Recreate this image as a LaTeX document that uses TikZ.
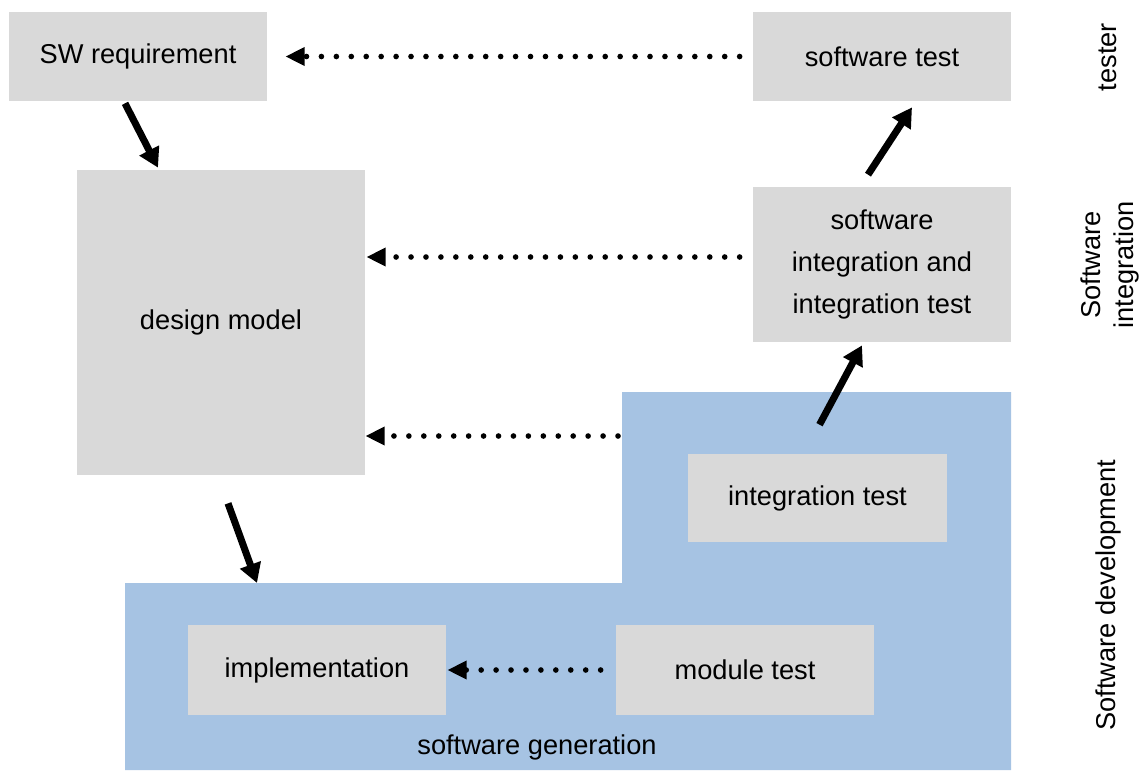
\documentclass[tikz,border=0pt]{standalone}
\usepackage{fontspec}
\setmainfont{Liberation Sans}
\usetikzlibrary{arrows.meta, calc}

\definecolor{boxgray}{RGB}{217,217,217}
\definecolor{genblue}{RGB}{166,195,227}

\tikzset{
    stage/.style={fill=boxgray, inner sep=0pt, align=center, font=\fontsize{15.5}{24}\selectfont},
    flow/.style={line width=4pt, -{Triangle[length=11pt, width=12pt]}},
    dotflow/.style={line width=3.2pt, line cap=round, dash pattern=on 0pt off 8.5pt, -{Triangle[length=11pt, width=10pt]}},
    side/.style={rotate=90, align=center, font=\fontsize{15.5}{19}\selectfont}
}

\begin{document}
\begin{tikzpicture}
            \useasboundingbox (0,0) rectangle (22.86,-15.4);

            % Software generation area
            \coordinate (gen-a) at (12.44,-7.84);
            \coordinate (gen-b) at (20.22,-7.84);
            \coordinate (gen-c) at (20.22,-15.4);
            \coordinate (gen-d) at (2.5,-15.4);
            \coordinate (gen-e) at (2.5,-11.66);
            \coordinate (gen-f) at (12.44,-11.66);
            \fill[genblue] (gen-a) -- (gen-b) -- (gen-c) -- (gen-d) -- (gen-e) -- (gen-f) -- cycle;
            \coordinate (gen-entry) at (5.14,-11.66); % top edge of the lower part
            \coordinate (gen-wall) at (12.36,-8.72); % left edge of the upper part

            % Boxes
            \node[stage, minimum width=5.16cm, minimum height=1.78cm] (swreq) at (2.76,-1.13) {SW requirement};
            \node[stage, minimum width=5.16cm, minimum height=1.78cm] (swtest) at (17.64,-1.13) {software test};
            \node[stage, minimum width=5.76cm, minimum height=6.1cm] (design) at (4.42,-6.45) {design model};
            \node[stage, minimum width=5.16cm, minimum height=3.1cm] (integ) at (17.64,-5.29) {software\\integration and\\integration test};
            \node[stage, minimum width=5.18cm, minimum height=1.76cm] (inttest) at (16.35,-9.96) {integration test};
            \node[stage, minimum width=5.16cm, minimum height=1.8cm] (impl) at (6.34,-13.4) {implementation};
            \node[stage, minimum width=5.16cm, minimum height=1.8cm] (modtest) at (14.9,-13.4) {module test};
            \node[font=\fontsize{15.5}{19}\selectfont] (genlabel) at (10.74,-14.94) {software generation};

            % Roles
            \node[side] (tester) at (22.16,-1.14) {tester};
            \node[side] (integrole) at (22.2,-5.3) {Software\\integration};
            \node[side] (devrole) at (22.16,-11.9) {Software development};

            % Work flow
            \draw[flow] ([xshift=-0.26cm, yshift=-0.04cm]swreq.south) -- ([xshift=-1.26cm, yshift=0.04cm]design.north);
            \draw[flow] ([xshift=0.14cm, yshift=-0.56cm]design.south) -- (gen-entry);
            \draw[flow] ([xshift=0.04cm, yshift=0.58cm]inttest.north) -- ([xshift=-0.4cm, yshift=-0.06cm]integ.south);
            \draw[flow] ([xshift=-0.28cm, yshift=0.24cm]integ.north) -- ([xshift=0.6cm, yshift=-0.12cm]swtest.south);

            % Feedback
            \draw[dotflow] ([xshift=-0.26cm]swtest.west) -- ([xshift=0.36cm]swreq.east);
            \draw[dotflow] ($(integ.west)+(-0.26,0.15)$) -- ($(integ.west -| design.east)+(0.02,0.15)$);
            \draw[dotflow] (gen-wall) -- (gen-wall -| design.east);
            \draw[dotflow] ([xshift=-0.3cm]modtest.west) -- ([xshift=0.02cm]impl.east);
        \end{tikzpicture}
\end{document}
